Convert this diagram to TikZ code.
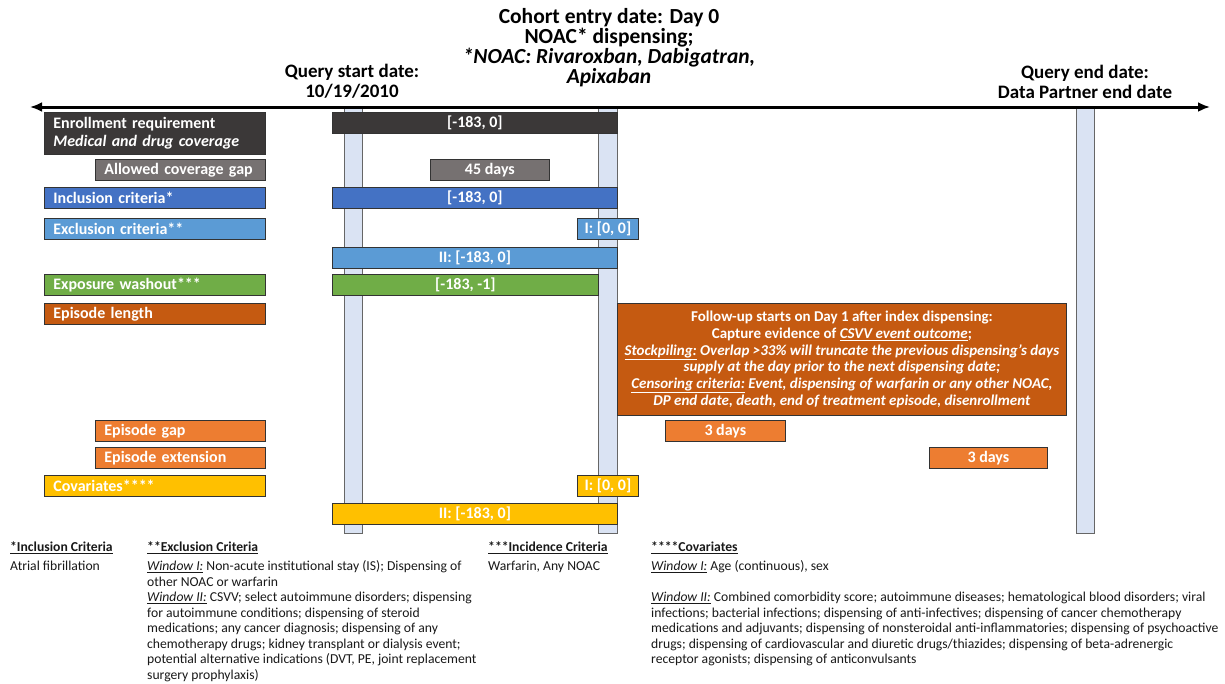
\documentclass[tikz,border=0pt]{standalone}
\usepackage{fontspec}
\setmainfont{Carlito}
\usetikzlibrary{arrows.meta}
\definecolor{enrollgray}{HTML}{3B3838}
\definecolor{gapgray}{HTML}{767171}
\definecolor{inclblue}{HTML}{4472C4}
\definecolor{exclblue}{HTML}{5B9BD5}
\definecolor{washgreen}{HTML}{70AD47}
\definecolor{episodeorange}{HTML}{C55A11}
\definecolor{gaporange}{HTML}{ED7D31}
\definecolor{covgold}{HTML}{FFC000}
\definecolor{pillarblue}{HTML}{DAE3F3}

\begin{document}
\lineskiplimit=-50pt\relax
\begin{tikzpicture}[x=1pt, y=-1pt,
    every node/.style={inner sep=0pt},
    lbl/.style={draw=black!80, line width=0.8pt, anchor=north west, text=white,
      font=\fontsize{16}{18.4}\selectfont\bfseries, align=left, text width=#1,
      inner xsep=9pt, minimum height=21pt},
    win/.style={draw=black!80, line width=0.8pt, anchor=north west, text=white,
      font=\fontsize{16}{18}\selectfont\bfseries, minimum width=#1, minimum height=21pt},
    datehead/.style={font=\fontsize{19}{20}\selectfont\bfseries, align=center},
    note/.style={anchor=north west, align=left, text=black!90, font=\fontsize{13.65}{15.5}\selectfont},
    pillar/.style={draw=black!60, line width=0.8pt, fill=pillarblue}]
\fill[white] (0,0) rectangle (1225,683);
\useasboundingbox (0,0) rectangle (1225,683);

% date pillars
\draw[pillar] (344,107) rectangle (362,533);
\draw[pillar] (598,107) rectangle (617,533);
\draw[pillar] (1076,107) rectangle (1094,533);

% timeline
\coordinate (tlstart) at (30,107);
\coordinate (tlend) at (1210,107);
\draw[line width=3pt, {Latex[length=12pt,width=10pt]}-{Latex[length=12pt,width=10pt]}] (tlstart) -- (tlend);

\node[datehead] (qstart) at (352,81) {Query start date:\\10/19/2010};
\node[datehead, font=\fontsize{21.5}{20}\selectfont\bfseries] (cohort) at (609,48)
  {Cohort entry date: Day 0\\NOAC* dispensing;\\\textit{*NOAC: Rivaroxban, Dabigatran,}\\\textit{Apixaban}};
\node[datehead] (qend) at (1085,82) {Query end date:\\Data Partner end date};

% row labels
\node[lbl=203pt, fill=enrollgray, minimum height=42pt] (enroll) at (44,112) {Enrollment requirement\\\textit{Medical and drug coverage}};
\node[lbl=152pt, fill=gapgray] (gap) at (95,159) {Allowed coverage gap};
\node[lbl=203pt, fill=inclblue] (incl) at (44,187) {Inclusion criteria*};
\node[lbl=203pt, fill=exclblue] (excl) at (44,218) {Exclusion criteria**};
\node[lbl=203pt, fill=washgreen] (wash) at (44,274) {Exposure washout***};
\node[lbl=203pt, fill=episodeorange] (eplen) at (44,303) {Episode length};
\node[lbl=152pt, fill=gaporange] (epgap) at (95,420) {Episode gap};
\node[lbl=152pt, fill=gaporange] (epext) at (95,447) {Episode extension};
\node[lbl=203pt, fill=covgold] (cov) at (44,475) {Covariates****};

% windows
\node[win=285pt, fill=enrollgray] (enrollwin) at (332,112) {[-183, 0]};
\node[win=119pt, fill=gapgray] (gapwin) at (430,159) {45 days};
\node[win=285pt, fill=inclblue] (inclwin) at (332,187) {[-183, 0]};
\node[win=61pt, fill=exclblue] (exclone) at (577,218) {I: [0, 0]};
\node[win=285pt, fill=exclblue] (excltwo) at (332,247) {II: [-183, 0]};
\node[win=266pt, fill=washgreen] (washwin) at (332,274) {[-183, -1]};
\node[win=449pt, fill=episodeorange, minimum height=112pt, align=center,
  font=\fontsize{15}{16.8}\selectfont\bfseries] (follow) at (617,303)
  {Follow-up starts on Day 1 after index dispensing:\\
   Capture evidence of \underline{\textit{CSVV event outcome}};\\
   \underline{\textit{Stockpiling:}}\textit{ Overlap >33\% will truncate the previous dispensing’s days}\\
   \textit{supply at the day prior to the next dispensing date;}\\
   \underline{\textit{Censoring criteria:}}\textit{ Event, dispensing of warfarin or any other NOAC,}\\
   \textit{DP end date, death, end of treatment episode, disenrollment}};
\node[win=120pt, fill=gaporange] (gapdays) at (665,420) {3 days};
\node[win=118pt, fill=gaporange] (extdays) at (929,447) {3 days};
\node[win=61pt, fill=covgold] (covone) at (577,475) {I: [0, 0]};
\node[win=285pt, fill=covgold] (covtwo) at (332,503) {II: [-183, 0]};

% footnotes
\node[note] (inclnote) at (10,542) {\textbf{\underline{*Inclusion Criteria}}\\[3.5pt]
  Atrial fibrillation};
\node[note] (exclnote) at (147,542) {\textbf{\underline{**Exclusion Criteria}}\\[3.5pt]
  \underline{\textit{Window I:}} Non-acute institutional stay (IS); Dispensing of\\
  other NOAC or warfarin\\
  \underline{\textit{Window II:}} CSVV; select autoimmune disorders; dispensing\\
  for autoimmune conditions; dispensing of steroid\\
  medications; any cancer diagnosis; dispensing of any\\
  chemotherapy drugs; kidney transplant or dialysis event;\\
  potential alternative indications (DVT, PE, joint replacement\\
  surgery prophylaxis)};
\node[note] (incinote) at (488,542) {\textbf{\underline{***Incidence Criteria}}\\[3.5pt]
  Warfarin, Any NOAC};
\node[note] (covnote) at (651,542) {\textbf{\underline{****Covariates}}\\[3.5pt]
  \underline{\textit{Window I:}} Age (continuous), sex\\[15.5pt]
  \underline{\textit{Window II:}} Combined comorbidity score; autoimmune diseases; hematological blood disorders; viral\\
  infections; bacterial infections; dispensing of anti-infectives; dispensing of cancer chemotherapy\\
  medications and adjuvants; dispensing of nonsteroidal anti-inflammatories; dispensing of psychoactive\\
  drugs; dispensing of cardiovascular and diuretic drugs/thiazides; dispensing of beta-adrenergic\\
  receptor agonists; dispensing of anticonvulsants};
\end{tikzpicture}
\end{document}
